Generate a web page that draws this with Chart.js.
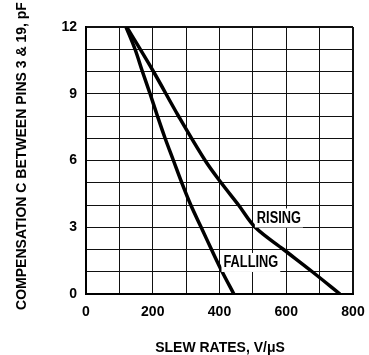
<!DOCTYPE html>
<html>
<head>
<meta charset="utf-8">
<script src="https://cdn.jsdelivr.net/npm/chart.js@4"></script>
<style>
  html, body { margin:0; padding:0; background:#fff; }
  canvas { display:block; }
</style>
</head>
<body>
<canvas id="chart" width="369" height="355"></canvas>
<script>
// values (slew rate V/us vs compensation pF)
const risingX  = [122, 202, 277, 357, 405, 457, 507, 592, 678, 761];
const risingY  = [12, 10, 8, 6, 5, 4, 3, 2, 1, 0];
const fallingX = [120, 147, 169, 192, 214, 237, 262, 287, 314, 345, 376, 408, 443];
const fallingY = [12, 11, 10, 9, 8, 7, 6, 5, 4, 3, 2, 1, 0];

const xLabels = [0, 200, 400, 600, 800];
const yLabels = [0, 3, 6, 9, 12];

const curveLabels = [
  { text: "RISING",  x: 578, y: 3.44 },
  { text: "FALLING", x: 494, y: 1.44 }
];

const FONT = "'Liberation Sans', Arial, sans-serif";

const toPts = (xs, ys) => xs.map((x, i) => ({ x, y: ys[i] }));

// titles + the white-backed curve labels (text squeezed a bit, the original is condensed)
const extras = {
  id: "extras",
  afterDatasetsDraw(chart) {
    const { ctx, scales } = chart;
    const sq = 0.8;
    ctx.save();
    ctx.font = "bold 16px " + FONT;
    ctx.textAlign = "center";
    ctx.textBaseline = "middle";
    curveLabels.forEach(l => {
      const px = scales.x.getPixelForValue(l.x);
      const py = scales.y.getPixelForValue(l.y);
      const w = ctx.measureText(l.text).width * sq;
      ctx.fillStyle = "#fff";
      ctx.fillRect(px - w/2 - 2, py - 9, w + 4, 19);
      ctx.fillStyle = "#000";
      ctx.save();
      ctx.translate(px, py + 1);
      ctx.scale(sq, 1);
      ctx.fillText(l.text, 0, 0);
      ctx.restore();
    });

    ctx.font = "bold 14px " + FONT;
    ctx.fillText("SLEW RATES, V/\u03bcS", 220, 348);

    ctx.translate(22, 156);
    ctx.rotate(-Math.PI / 2);
    ctx.fillText("COMPENSATION C BETWEEN PINS 3 & 19, pF", 0, 0);
    ctx.restore();
  }
};

const edgeW = (v, max) => (v === 0 || v === max) ? 2 : 1;

const line = (label, xs, ys) => ({
  label, data: toPts(xs, ys), borderColor: "#000", borderWidth: 3.5,
  pointRadius: 0, tension: 0.35, fill: false
});

new Chart(document.getElementById("chart").getContext("2d"), {
  type: "line",
  data: {
    datasets: [ line("RISING", risingX, risingY), line("FALLING", fallingX, fallingY) ]
  },
  options: {
    responsive: false,
    devicePixelRatio: 1,
    animation: false,
    layout: { padding: { left: 0, right: 16, top: 27, bottom: 0 } },
    plugins: { legend: { display: false }, tooltip: { enabled: false } },
    scales: {
      x: {
        type: "linear", min: 0, max: 800,
        afterFit: s => { s.height = 61; s.paddingLeft = 0; s.paddingRight = 0; },
        border: { color: "#000", width: 2 },
        grid: { color: "#111", lineWidth: c => edgeW(c.tick.value, 800), drawTicks: false },
        ticks: {
          stepSize: 100, padding: 10, color: "#000", maxRotation: 0, autoSkip: false,
          font: { family: FONT, size: 14, weight: "bold" },
          callback: v => xLabels.includes(v) ? String(v) : ""
        }
      },
      y: {
        type: "linear", min: 0, max: 12,
        afterFit: s => { s.width = 86; s.paddingTop = 0; s.paddingBottom = 0; },
        border: { color: "#000", width: 2 },
        grid: { color: "#111", lineWidth: c => edgeW(c.tick.value, 12), drawTicks: false },
        ticks: {
          stepSize: 1, padding: 9, color: "#000", autoSkip: false,
          font: { family: FONT, size: 14, weight: "bold" },
          callback: v => yLabels.includes(v) ? String(v) : ""
        }
      }
    }
  },
  plugins: [extras]
});
</script>
</body>
</html>
